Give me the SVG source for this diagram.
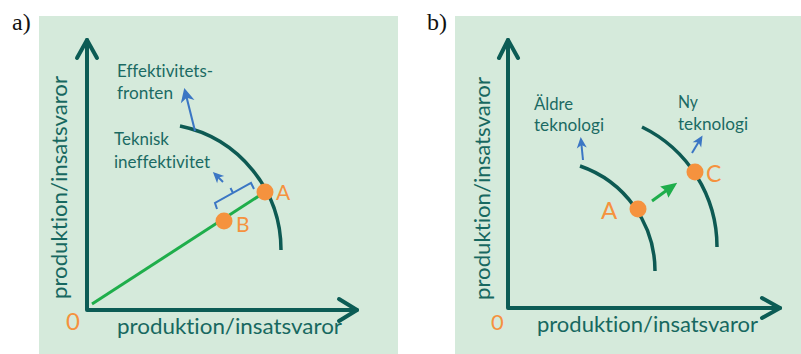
<svg xmlns="http://www.w3.org/2000/svg" width="801" height="354" viewBox="0 0 801 354">
<style>
.bg{fill:#d5eadb}
.axis{fill:none;stroke:#0c5c55;stroke-width:4;stroke-linecap:round;stroke-linejoin:round}
.curve{fill:none;stroke:#0d5a53;stroke-width:3.5}
.pt{fill:#f5923e}
text{font-variant-ligatures:none}
.olbl{font-family:Lato,"Open Sans",sans-serif;fill:#f5923e}
.albl{font-family:Lato,"Open Sans",sans-serif;font-size:22px;fill:#176860}
.lbl{font-family:Lato,"Open Sans",sans-serif;font-size:16.5px;fill:#1b6a63}
.panel{font-family:"Liberation Serif",serif;font-size:24px;fill:#111}
.blue{fill:none;stroke:#3b76c4;stroke-width:2}
.green{fill:none;stroke:#1fae4b;stroke-width:3}
</style>
<defs>
<marker id="ahb" viewBox="-12 -8 16 16" refX="0" refY="0" markerWidth="16" markerHeight="16" markerUnits="userSpaceOnUse" orient="auto">
<path d="M3,0 L-11,-7 L-7,0 L-11,7 Z" fill="#3b76c4"/>
</marker>
<marker id="ahs" viewBox="-10 -6 13 12" refX="0" refY="0" markerWidth="13" markerHeight="12" markerUnits="userSpaceOnUse" orient="auto">
<path d="M3,0 L-8,-5 L-5,0 L-8,5 Z" fill="#3b76c4"/>
</marker>
<marker id="ahg" viewBox="-14 -8 18 16" refX="0" refY="0" markerWidth="18" markerHeight="16" markerUnits="userSpaceOnUse" orient="auto">
<path d="M4,0 L-12,-7 L-10,0 L-12,7 Z" fill="#1fae4b"/>
</marker>
</defs>

<text class="panel" x="12" y="30">a)</text>
<text class="panel" x="427" y="30">b)</text>

<g id="panel-a">
<rect class="bg" x="39" y="16" width="359" height="338"/>
<path class="axis" d="M87,40 L87,310 L357,310"/>
<path class="axis" d="M77,58 L87,40 L97,58"/>
<path class="axis" d="M339,299 L357,310 L339,321"/>
<text class="albl" transform="translate(67,187.5) rotate(-90)" text-anchor="middle" textLength="223" lengthAdjust="spacingAndGlyphs">produktion/insatsvaror</text>
<text class="albl" x="117" y="334" textLength="225" lengthAdjust="spacingAndGlyphs">produktion/insatsvaror</text>
<text class="olbl" x="66" y="330" font-size="24">0</text>
</g>

<g id="frontier-a">
<path class="curve" d="M180,126 A126.6,126.6 0 0 1 281,250"/>
<text class="lbl" x="117" y="77" textLength="96" lengthAdjust="spacingAndGlyphs">Effektivitets-</text>
<text class="lbl" x="117" y="99" textLength="56" lengthAdjust="spacingAndGlyphs">fronten</text>
</g>

<g id="ineff-label">
<text class="lbl" x="114" y="145" textLength="55" lengthAdjust="spacingAndGlyphs">Teknisk</text>
<text class="lbl" x="114" y="168" textLength="96" lengthAdjust="spacingAndGlyphs">ineffektivitet</text>
</g>

<g id="ray">
<line class="green" x1="92" y1="304" x2="265" y2="192"/>
</g>

<g id="point-A-a">
<circle class="pt" cx="265" cy="192" r="8.5"/>
<text class="olbl" x="276" y="200" font-size="21">A</text>
</g>
<g id="point-B-a">
<circle class="pt" cx="224" cy="221" r="8.5"/>
<text class="olbl" x="236" y="232" font-size="21">B</text>
</g>

<g id="bracket">
<path class="blue" d="M217,209 L215,203 L251,183 L254,189 M233,193 L230.5,188"/>
</g>

<g id="panel-b">
<rect class="bg" x="455" y="16" width="346" height="338"/>
<path class="axis" d="M508,40 L508,308 L780,308"/>
<path class="axis" d="M499,58 L508,40 L518,58"/>
<path class="axis" d="M762,298 L780,308 L762,318"/>
<text class="albl" transform="translate(490,188.5) rotate(-90)" text-anchor="middle" textLength="223" lengthAdjust="spacingAndGlyphs">produktion/insatsvaror</text>
<text class="albl" x="537" y="332" textLength="221" lengthAdjust="spacingAndGlyphs">produktion/insatsvaror</text>
<text class="olbl" x="491" y="330" font-size="22">0</text>
</g>

<g id="old-tech">
<path class="curve" d="M580,166 A111,111 0 0 1 655,271"/>
<text class="lbl" x="534" y="110" textLength="39" lengthAdjust="spacingAndGlyphs">Äldre</text>
<text class="lbl" x="534" y="131" textLength="70" lengthAdjust="spacingAndGlyphs">teknologi</text>
</g>

<g id="new-tech">
<path class="curve" d="M642,127 A133.5,133.5 0 0 1 717,247"/>
<text class="lbl" x="678" y="108" textLength="20" lengthAdjust="spacingAndGlyphs">Ny</text>
<text class="lbl" x="678" y="130" textLength="70" lengthAdjust="spacingAndGlyphs">teknologi</text>
</g>

<g id="point-A-b">
<circle class="pt" cx="638" cy="209" r="8.5"/>
<text class="olbl" x="601" y="219" font-size="24">A</text>
</g>
<g id="point-C-b">
<circle class="pt" cx="695" cy="172" r="8.5"/>
<text class="olbl" x="706" y="182" font-size="23">C</text>
</g>

<g id="connectors">
<line class="blue" x1="195" y1="131" x2="185" y2="91" marker-end="url(#ahb)"/>
<line class="blue" x1="223" y1="182" x2="215" y2="174" marker-end="url(#ahs)"/>
<line class="blue" x1="583" y1="160" x2="581" y2="140" marker-end="url(#ahs)"/>
<line class="blue" x1="692" y1="153" x2="701" y2="138" marker-end="url(#ahs)"/>
<line class="green" x1="652" y1="201" x2="674" y2="185" marker-end="url(#ahg)" stroke-width="2.5"/>
</g>
</svg>
